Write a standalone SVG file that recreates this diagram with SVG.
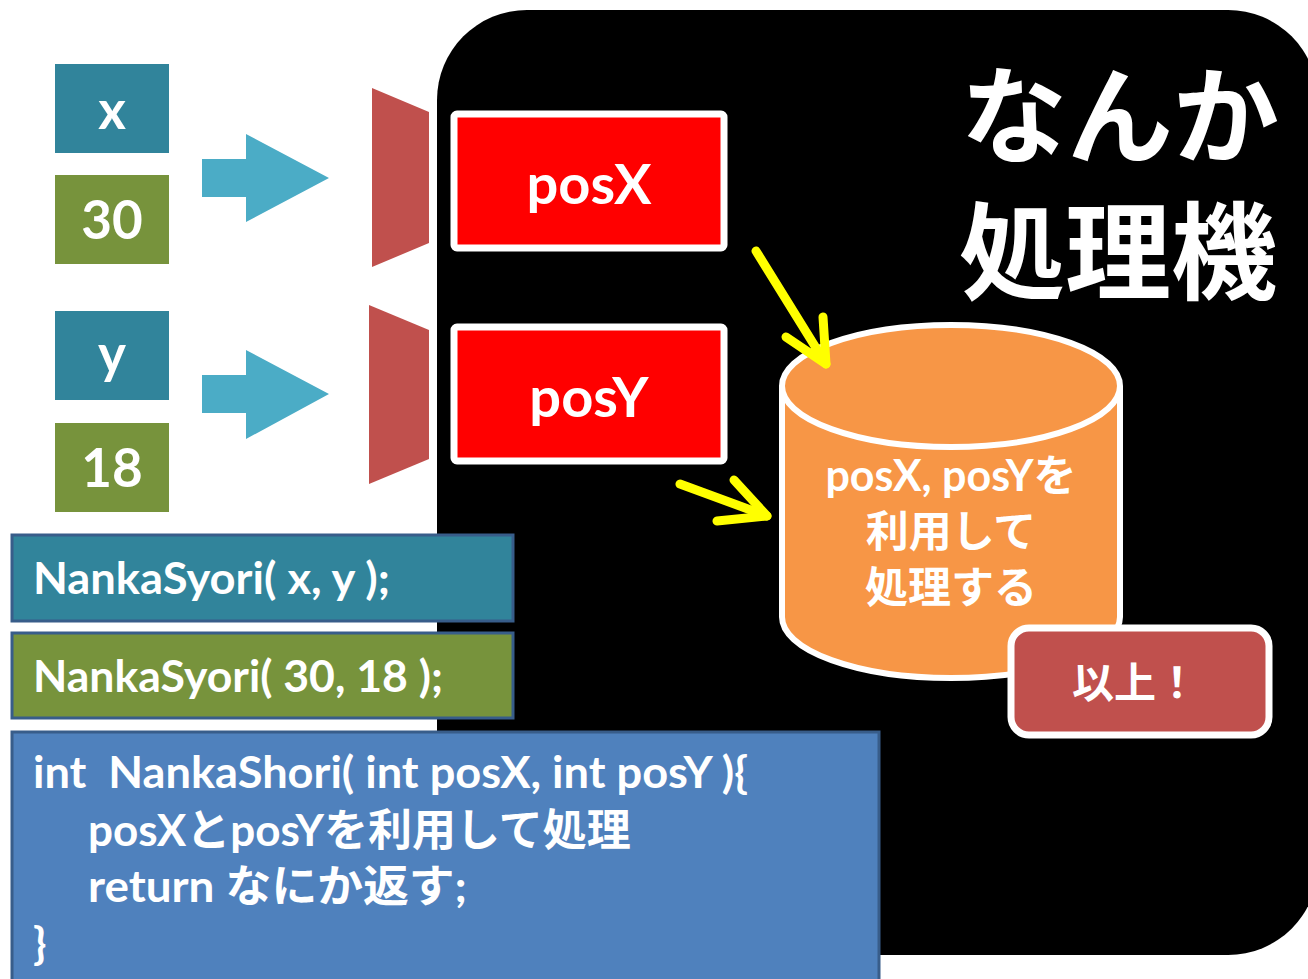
<svg xmlns="http://www.w3.org/2000/svg" width="1308" height="979" viewBox="0 0 1308 979">
<style>
.t{font-family:Lato,"Noto Sans CJK JP",sans-serif;font-weight:bold;fill:#fff}
.c{text-anchor:middle}
.teal{fill:#31849B}
.olive{fill:#77933C}
.trap{fill:#C0504D}
.barrow{fill:#4BACC6}
.redbox{fill:#FF0000;stroke:#fff;stroke-width:7}
.yl{fill:none;stroke:#FFFF00;stroke-width:9;stroke-linecap:round;stroke-linejoin:round}
.code{stroke:#385D8A;stroke-width:3}
</style>
<rect width="1308" height="979" fill="#fff"/>
<g id="machine">
<rect x="437" y="10" width="881" height="945" rx="90" ry="90" fill="#000"/>
<text class="t c" x="1120" y="155" font-size="106">なんか</text>
<text class="t c" x="1118" y="291" font-size="106">処理機</text>
</g>
<g id="var-x"><rect class="teal" x="55" y="64" width="114" height="89"/><text class="t c" x="112" y="129" font-size="53">x</text></g>
<g id="val-30"><rect class="olive" x="55" y="175" width="114" height="89"/><text class="t c" x="112" y="239" font-size="53">30</text></g>
<g id="var-y"><rect class="teal" x="55" y="311" width="114" height="89"/><text class="t c" x="112" y="373" font-size="53">y</text></g>
<g id="val-18"><rect class="olive" x="55" y="423" width="114" height="89"/><text class="t c" x="112" y="487" font-size="53">18</text></g>
<g id="input1"><polygon class="trap" points="372,88 429,112 429,243 372,267"/></g>
<g id="input2"><polygon class="trap" points="369,305 429,330 429,459 369,484"/></g>
<g id="posX"><rect class="redbox" x="454" y="114" width="270" height="134" rx="3"/><text class="t c" x="589" y="204" font-size="56">posX</text></g>
<g id="posY"><rect class="redbox" x="454" y="327" width="270" height="134" rx="3"/><text class="t c" x="589" y="417" font-size="56">posY</text></g>
<g id="cylinder">
<path d="M782,386 L782,617 A169,61 0 0 0 1120,617 L1120,386 A169,61 0 0 0 782,386 Z" fill="#F79646" stroke="#fff" stroke-width="6"/>
<path d="M782,386 A169,61 0 0 0 1120,386" fill="none" stroke="#fff" stroke-width="6"/>
<text class="t c" x="951" y="491" font-size="43">posX, posYを</text>
<text class="t c" x="951" y="547" font-size="43">利用して</text>
<text class="t c" x="951" y="603" font-size="43">処理する</text>
</g>
<g id="done"><rect x="1011" y="628" width="258" height="107" rx="18" fill="#C0504D" stroke="#fff" stroke-width="7"/><text class="t c" x="1135" y="698" font-size="42">以上！</text></g>
<g id="call1"><rect class="teal code" x="12" y="535" width="501" height="86"/><text class="t" x="33" y="594" font-size="44" textLength="357" lengthAdjust="spacingAndGlyphs">NankaSyori( x, y );</text></g>
<g id="call2"><rect class="olive code" x="12" y="633" width="501" height="85"/><text class="t" x="33" y="692" font-size="44" textLength="410" lengthAdjust="spacingAndGlyphs">NankaSyori( 30, 18 );</text></g>
<g id="funcdef"><rect class="code" x="12" y="732" width="867" height="260" fill="#4F81BD"/>
<text class="t" x="33" y="788" font-size="44" xml:space="preserve" textLength="715" lengthAdjust="spacingAndGlyphs">int  NankaShori( int posX, int posY ){</text>
<text class="t" x="88" y="846" font-size="44">posXとposYを利用して処理</text>
<text class="t" x="88" y="902" font-size="44" textLength="379" lengthAdjust="spacingAndGlyphs">return なにか返す;</text>
<text class="t" x="33" y="959" font-size="44">}</text>
</g>
<g id="connectors">
<polygon class="barrow" points="202,159 246,159 246,134 329,178 246,222 246,197 202,197"/>
<polygon class="barrow" points="202,375 246,375 246,350 329,394 246,439 246,413 202,413"/>
<polyline class="yl" points="756,251 826,364"/>
<polyline class="yl" points="823,317 826,364 786,337"/>
<polyline class="yl" points="680,484 767,516"/>
<polyline class="yl" points="734,480 767,516 717,521"/>
</g>
</svg>
